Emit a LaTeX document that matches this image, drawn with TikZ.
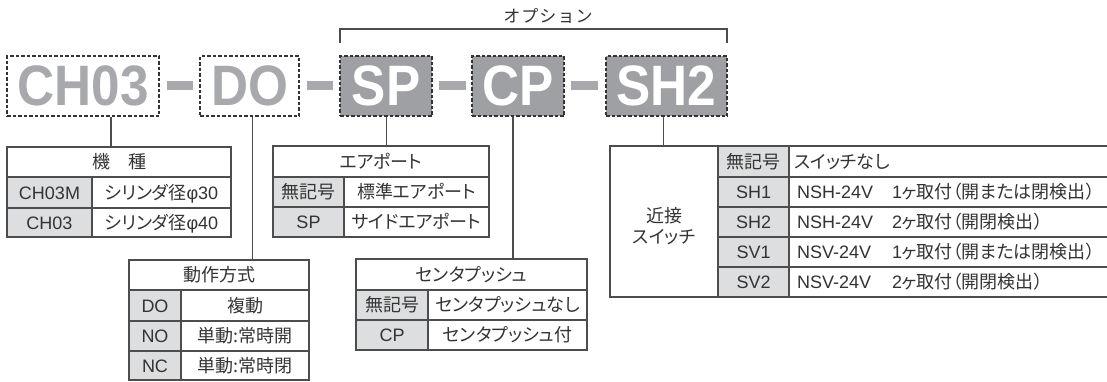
\documentclass[tikz,border=0pt]{standalone}
\usepackage{fontspec}
\setmainfont{Liberation Sans}
\newfontfamily\jp[RawFeature=+palt]{Noto Sans CJK JP}
\newfontfamily\jpw{Noto Sans CJK JP}
\newfontface\codefont[FakeStretch=0.9]{Liberation Sans Bold}
\usetikzlibrary{calc}
\definecolor{codegray}{HTML}{A7A9AC}
\definecolor{boxgray}{HTML}{9FA0A3}
\definecolor{cellgray}{HTML}{DDDEDF}
\definecolor{ink}{HTML}{333333}
\definecolor{rule}{HTML}{4D4D4D}
\definecolor{dashc}{HTML}{333333}
\newcommand\J[1]{{\jp\fontsize{18}{20}\selectfont #1}}
\newcommand\tcell[7]{%
  \node[#6, minimum width={(#4-#2)*1pt}, minimum height={(#5-#3)*1pt}] (#1) at ({(#2+#4)/2},{(#3+#5)/2}) {#7};}
\begin{document}
\begin{tikzpicture}[x=1pt,y=-1pt,
  codebox/.style={draw=dashc, dash pattern=on 3.5pt off 2pt, line width=1.3pt, inner sep=0pt,
    text depth=0pt, font=\codefont\fontsize{57}{57}\selectfont},
  wcode/.style={codebox, fill=white, text=codegray},
  gcode/.style={codebox, fill=boxgray, text=white},
  bar/.style={fill=codegray, inner sep=0pt, minimum width=26.5pt, minimum height=9pt},
  cell/.style={draw=rule, line width=1.1pt, fill=white, inner sep=0pt, text=ink,
    text height=16pt, text depth=3pt, font=\fontsize{18}{20}\selectfont},
  gcell/.style={cell, fill=cellgray},
  conn/.style={draw=rule, line width=1.1pt},
  lefttx/.style={anchor=west, inner sep=0pt, text=ink, text height=16pt, text depth=3pt,
    font=\fontsize{18}{20}\selectfont}
]
\useasboundingbox (0,0) rectangle (1107,381);

% code boxes
\node[wcode, minimum width=152pt, minimum height=60pt] (ch03) at (83,86) {CH03};
\node[bar] (d1) at (180,85.5) {};
\node[wcode, minimum width=99pt, minimum height=60pt] (do) at (249.5,86) {DO};
\node[bar] (d2) at (320,85.5) {};
\node[gcode, minimum width=92pt, minimum height=60pt] (sp) at (386,86) {SP};
\node[bar] (d3) at (452.5,85.5) {};
\node[gcode, minimum width=92pt, minimum height=60pt] (cp) at (518,86) {CP};
\node[bar] (d4) at (584.5,85.5) {};
\node[gcode, minimum width=121pt, minimum height=60pt] (sh2) at (666.5,86) {SH2};

% option bracket
\coordinate (bl) at (340,43);
\coordinate (br) at (727,43);
\draw[conn] (bl) -- ++(0,-14) -| (br);
\node[text=ink, inner sep=0pt] (opt) at (548,16) {\jpw\fontsize{17}{17}\selectfont\addfontfeature{LetterSpace=6}オプション};

% table 1
\tcell{t1h}{7}{147}{231}{177}{cell}{\J{機　種}}
\tcell{t1a}{7}{177}{92}{208}{gcell}{CH03M}
\tcell{t1b}{92}{177}{231}{208}{cell}{\J{シリンダ径}φ30}
\tcell{t1c}{7}{208}{92}{237}{gcell}{CH03}
\tcell{t1d}{92}{208}{231}{237}{cell}{\J{シリンダ径}φ40}

% table 2
\tcell{t2h}{273}{146}{489}{177}{cell}{\J{エアポート}}
\tcell{t2a}{273}{177}{344}{207}{gcell}{\J{無記号}}
\tcell{t2b}{344}{177}{489}{207}{cell}{\J{標準エアポート}}
\tcell{t2c}{273}{207}{344}{237}{gcell}{SP}
\tcell{t2d}{344}{207}{489}{237}{cell}{\J{サイドエアポート}}

% table 3
\tcell{t3h}{129}{260}{309}{290}{cell}{\J{動作方式}}
\tcell{t3a}{129}{290}{181}{321}{gcell}{DO}
\tcell{t3b}{181}{290}{309}{321}{cell}{\J{複動}}
\tcell{t3c}{129}{321}{181}{351}{gcell}{NO}
\tcell{t3d}{181}{321}{309}{351}{cell}{\J{単動:常時開}}
\tcell{t3e}{129}{351}{181}{380}{gcell}{NC}
\tcell{t3f}{181}{351}{309}{380}{cell}{\J{単動:常時閉}}

% table 4
\tcell{t4h}{356}{259}{587}{290}{cell}{\J{センタプッシュ}}
\tcell{t4a}{356}{290}{428}{320}{gcell}{\J{無記号}}
\tcell{t4b}{428}{290}{587}{320}{cell}{\J{センタプッシュなし}}
\tcell{t4c}{356}{320}{428}{350}{gcell}{CP}
\tcell{t4d}{428}{320}{587}{350}{cell}{\J{センタプッシュ付}}

% table 5
\tcell{t5l}{610}{146}{718}{297}{cell}{}
\node[align=center, inner sep=0pt, text=ink, font=\jp\fontsize{18}{21}\selectfont] (t5lt) at (664,226) {近接\\スイッチ};
\tcell{t5a}{718}{146}{789}{177}{gcell}{\J{無記号}}
\tcell{t5b}{718}{177}{789}{207}{gcell}{SH1}
\tcell{t5c}{718}{207}{789}{237}{gcell}{SH2}
\tcell{t5d}{718}{237}{789}{267}{gcell}{SV1}
\tcell{t5e}{718}{267}{789}{297}{gcell}{SV2}
\tcell{t5f}{789}{146}{1110}{177}{cell}{}
\tcell{t5g}{789}{177}{1110}{207}{cell}{}
\tcell{t5h}{789}{207}{1110}{237}{cell}{}
\tcell{t5i}{789}{237}{1110}{267}{cell}{}
\tcell{t5j}{789}{267}{1110}{297}{cell}{}
\node[lefttx] (s1) at (794,161.5) {\J{スイッチなし}};
\node[lefttx] (s2a) at (797,192) {NSH-24V};
\node[lefttx] (s2b) at (892,192) {1\J{ヶ取付（開または閉検出）}};
\node[lefttx] (s3a) at (797,222) {NSH-24V};
\node[lefttx] (s3b) at (892,222) {2\J{ヶ取付（開閉検出）}};
\node[lefttx] (s4a) at (797,252) {NSV-24V};
\node[lefttx] (s4b) at (892,252) {1\J{ヶ取付（開または閉検出）}};
\node[lefttx] (s5a) at (797,282) {NSV-24V};
\node[lefttx] (s5b) at (892,282) {2\J{ヶ取付（開閉検出）}};

% connectors
\coordinate (k1) at (111,147);
\coordinate (k2) at (252.5,260);
\coordinate (k3) at (386.5,146);
\coordinate (k4) at (513,259);
\coordinate (k5) at (663.5,146);
\draw[conn] (ch03.south -| k1) -- (k1);
\draw[conn] (do.south -| k2) -- (k2);
\draw[conn] (sp.south -| k3) -- (k3);
\draw[conn] (cp.south -| k4) -- (k4);
\draw[conn] (sh2.south -| k5) -- (k5);
\end{tikzpicture}
\end{document}
